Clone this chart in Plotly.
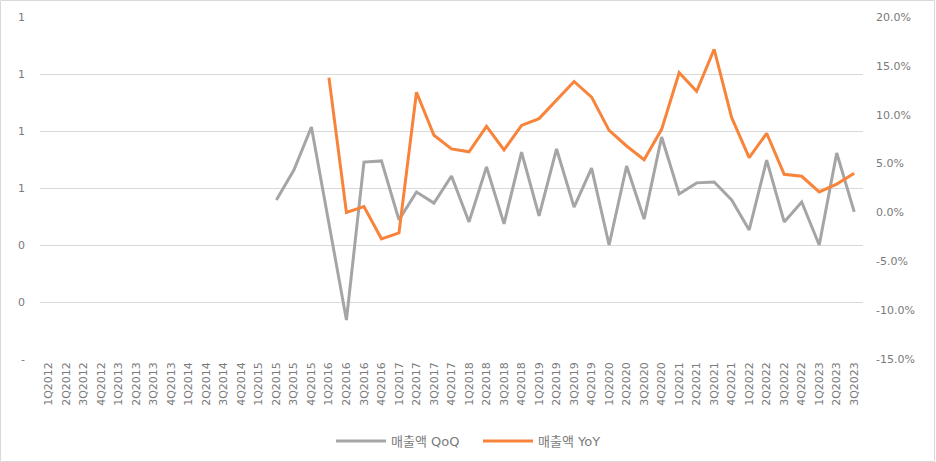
import plotly.graph_objects as go

quarters = [f"{q}Q{y}" for y in range(2012, 2024) for q in range(1, 5)][:47]

qoq = [None] * 13 + [
    0.558, 0.663, 0.814,
    0.474, 0.137, 0.691, 0.695,
    0.488, 0.586, 0.547, 0.642,
    0.481, 0.674, 0.474, 0.726,
    0.502, 0.737, 0.533, 0.670,
    0.400, 0.677, 0.491, 0.779,
    0.579, 0.618, 0.621, 0.558,
    0.453, 0.698, 0.481, 0.551,
    0.400, 0.723, 0.516,
]

yoy = [None] * 16 + [
    13.8, 0.0, 0.6, -2.7,
    -2.1, 12.3, 7.9, 6.5,
    6.2, 8.8, 6.4, 8.9,
    9.6, 11.5, 13.4, 11.8,
    8.4, 6.8, 5.4, 8.5,
    14.3, 12.4, 16.7, 9.7,
    5.6, 8.1, 3.9, 3.7,
    2.1, 2.9, 4.0,
]

left_tickvals = [0, 0.2, 0.4, 0.6, 0.8, 1.0, 1.2]
left_ticktext = ["-", "0", "0", "1", "1", "1", "1"]
right_tickvals = [-15, -10, -5, 0, 5, 10, 15, 20]
right_ticktext = ["-15.0%", "-10.0%", "-5.0%", "0.0%", "5.0%", "10.0%", "15.0%", "20.0%"]

num_font = "DejaVu Sans, Noto Sans CJK KR, sans-serif"
txt_color = "#7a7a7a"

fig = go.Figure()
fig.add_trace(go.Scatter(
    x=quarters, y=qoq, name="매출액 QoQ", mode="lines",
    line=dict(color="#a5a5a5", width=3), yaxis="y",
))
fig.add_trace(go.Scatter(
    x=quarters, y=yoy, name="매출액 YoY", mode="lines",
    line=dict(color="#f7843a", width=3), yaxis="y2",
))

W, H = 936, 462
ml, mr, mt, mb = 40, 73, 17, 103
pw, ph = W - ml - mr, H - mt - mb

fig.update_layout(
    width=W, height=H,
    margin=dict(l=ml, r=mr, t=mt, b=mb, autoexpand=False),
    paper_bgcolor="white", plot_bgcolor="white",
    font=dict(family=num_font, size=11, color=txt_color),
    showlegend=True,
    legend=dict(orientation="h", x=0.5 + 10 / W, xanchor="center", xref="container",
                y=(H - 441) / H, yanchor="middle", yref="container",
                font=dict(family=num_font, size=13, color=txt_color),
                itemwidth=50, entrywidth=82),
    xaxis=dict(
        type="category", tickangle=-90, showgrid=False, zeroline=False,
        showline=False, ticks="", tickfont=dict(size=11, color=txt_color),
        range=[-0.5, 46.5], automargin=False,
    ),
    yaxis=dict(
        range=[0, 1.2], tickvals=left_tickvals, ticktext=left_ticktext,
        showgrid=True, gridcolor="#d9d9d9", gridwidth=1, zeroline=False,
        showline=False, ticks="", tickfont=dict(size=11, color=txt_color),
        ticklabelstandoff=14, automargin=False,
    ),
    yaxis2=dict(
        overlaying="y", side="right", range=[-15, 20],
        tickvals=right_tickvals, ticktext=right_ticktext,
        showgrid=False, zeroline=False, showline=False, ticks="",
        tickfont=dict(size=11, color=txt_color), ticklabelstandoff=12,
        automargin=False,
    ),
    shapes=[dict(
        type="rect", xref="paper", yref="paper",
        x0=(0.5 - ml) / pw, x1=(W - 1.5 - ml) / pw,
        y0=-(mb - 0.5) / ph, y1=1 + (mt - 0.5) / ph,
        line=dict(color="#d9d9d9", width=1), fillcolor="rgba(0,0,0,0)", layer="below",
    )],
)

fig.write_html("out.html")
